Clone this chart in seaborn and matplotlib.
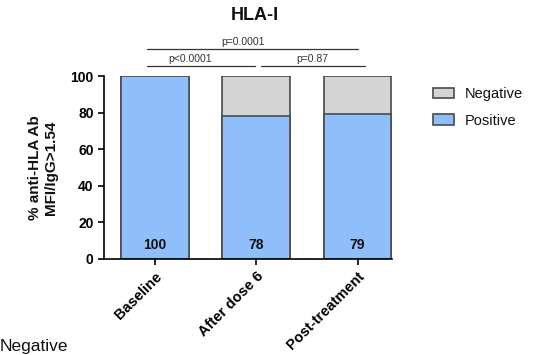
import matplotlib
matplotlib.use("Agg")
import matplotlib.pyplot as plt
import seaborn as sns
import pandas as pd
from matplotlib.patches import Patch

categories = ["Baseline", "After dose 6", "Post-treatment"]
positive = [100, 78, 79]
negative = [0, 22, 21]
series_names = ["Negative", "Positive"]
p_labels = ["p=0.0001", "p<0.0001", "p=0.87"]

sns.set_theme(style="ticks")
plt.rcParams['font.family'] = ['Liberation Sans', 'DejaVu Sans']
plt.rcParams['text.color'] = '#111111'
plt.rcParams['axes.labelcolor'] = '#111111'

blue = "#8fbffa"
gray = "#d4d4d4"
edge = "#4a4a4a"

df = pd.DataFrame({"cat": categories, "pos": positive,
                   "total": [p + n for p, n in zip(positive, negative)]})

fig = plt.figure(figsize=(5.45, 3.55), dpi=100)
ax = fig.add_axes([104/545, 1-259/355, 288/545, 183/355])

sns.barplot(data=df, x="cat", y="total", color=gray, width=0.67,
            edgecolor=edge, linewidth=1.2, saturation=1, ax=ax)
sns.barplot(data=df, x="cat", y="pos", color=blue, width=0.67,
            edgecolor=edge, linewidth=1.2, saturation=1, ax=ax)

ax.set_xlim(-0.5, 2.34)
ax.set_ylim(0, 100)
ax.set_yticks([0, 20, 40, 60, 80, 100])
ax.set_xlabel("")
ax.set_ylabel("% anti-HLA Ab\nMFI/IgG>1.54", fontsize=11, fontweight="bold",
              linespacing=1.25)
ax.yaxis.set_label_coords(-0.158, 0.5)
for s in ["top", "right"]:
    ax.spines[s].set_visible(False)
for s in ["left", "bottom"]:
    ax.spines[s].set_linewidth(1.2)
    ax.spines[s].set_color("black")
ax.tick_params(axis="both", direction="out", length=4, width=1.2, colors="black",
               labelsize=10)
for lab in ax.get_yticklabels():
    lab.set_fontweight("bold")
ax.set_xticks(range(len(categories)))
ax.set_xticklabels(categories, rotation=45, ha="right", rotation_mode="anchor",
                   fontweight="bold", fontsize=10.5)

for i, v in enumerate(positive):
    ax.text(i, 7.5, str(v), ha="center", va="center", fontsize=10, fontweight="bold",
            color="#111111")

# significance brackets
lc = "#333333"
ax.plot([-0.076, 2.0], [114.8, 114.8], color=lc, lw=0.9, clip_on=False)
ax.text(0.87, 116.0, p_labels[0], ha="center", va="bottom", fontsize=7.5, color=lc)
ax.plot([-0.076, 0.99], [105.5, 105.5], color=lc, lw=0.9, clip_on=False)
ax.text(0.35, 106.7, p_labels[1], ha="center", va="bottom", fontsize=7.5, color=lc)
ax.plot([1.05, 2.07], [105.5, 105.5], color=lc, lw=0.9, clip_on=False)
ax.text(1.55, 106.7, p_labels[2], ha="center", va="bottom", fontsize=7.5, color=lc)

fig.text(255/545, 1-15/355, "HLA-I", ha="center", va="center", fontsize=13,
         fontweight="bold")

handles = [Patch(facecolor=gray, edgecolor=edge, linewidth=1.2, label=series_names[0]),
           Patch(facecolor=blue, edgecolor=edge, linewidth=1.2, label=series_names[1])]
fig.legend(handles=handles, loc="upper left", bbox_to_anchor=(420/545, 1-74/355),
           frameon=False, fontsize=10.5, handlelength=1.4, handleheight=0.7,
           labelspacing=0.85, handletextpad=0.75)

fig.text(0.0, 1-347/355, "Negative", ha="left", va="center", fontsize=12.5)

fig.savefig("out.png", dpi=100)
